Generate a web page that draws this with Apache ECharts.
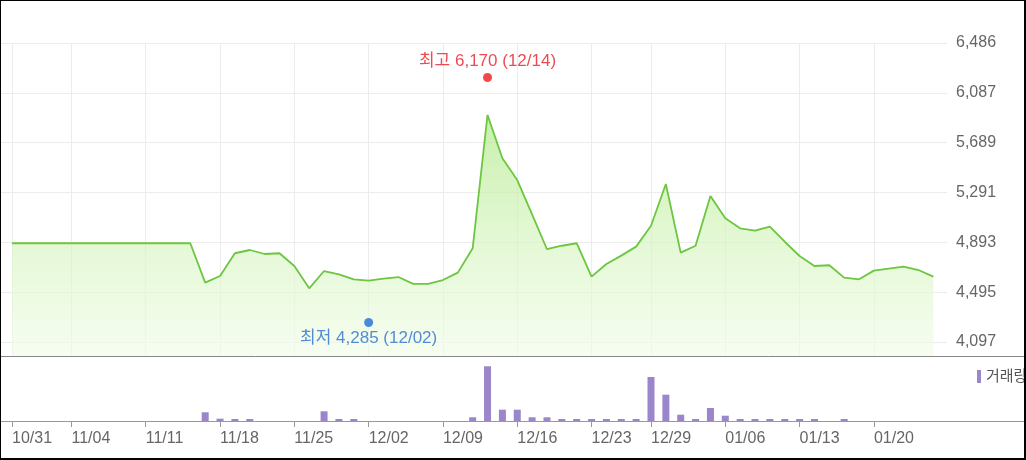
<!DOCTYPE html>
<html>
<head>
<meta charset="utf-8">
<script src="https://cdn.jsdelivr.net/npm/echarts@6/dist/echarts.min.js"></script>
<style>
  html, body { margin: 0; padding: 0; background: #fff; }
  #main { position: absolute; left: 0; top: 0; width: 1026px; height: 460px; }
  #frame {
    position: absolute; left: 0; top: 0; width: 1026px; height: 460px;
    box-sizing: border-box; border: solid #000; border-width: 1px 2px 2px 1px;
    pointer-events: none;
  }
</style>
</head>
<body>
<div id="main"></div>
<div id="frame"></div>
<script>
// trading days shown on the x axis (one per point)
var dates = [
  "10/31", "11/01", "11/02", "11/03", "11/04", "11/05", "11/06", "11/07", "11/08",
  "11/11", "11/12", "11/13", "11/14", "11/15", "11/18", "11/19", "11/20", "11/21", "11/22",
  "11/25", "11/26", "11/27", "11/28", "11/29", "12/02", "12/03", "12/04", "12/05", "12/06",
  "12/09", "12/11", "12/13", "12/14", "12/15", "12/16", "12/17", "12/18", "12/19", "12/20",
  "12/23", "12/24", "12/26", "12/27", "12/29", "12/30", "12/31", "01/02", "01/03",
  "01/06", "01/07", "01/08", "01/09", "01/10", "01/13", "01/14", "01/15", "01/16", "01/17",
  "01/20", "01/21", "01/22", "01/23", "01/24"
];
var closes = [
  4886, 4886, 4886, 4886, 4886, 4886, 4886, 4886, 4886, 4886, 4886, 4886, 4886,
  4571, 4624, 4806, 4832, 4800, 4806, 4704, 4526, 4664, 4638, 4598, 4587, 4603,
  4616, 4561, 4561, 4592, 4651, 4846, 5911, 5565, 5391, 5117, 4838, 4866, 4886,
  4619, 4720, 4787, 4859, 5026, 5359, 4811, 4866, 5264, 5085, 5005, 4986, 5018,
  4898, 4784, 4704, 4710, 4611, 4598, 4667, 4683, 4699, 4672, 4619
];
var volumes = [
  0, 0, 0, 0, 0, 0, 0, 0, 0, 0, 0, 0, 0,
  87000, 23000, 20000, 20000, 0, 0, 0, 0, 97000, 20000, 20000, 0, 0,
  0, 0, 0, 0, 0, 37000, 547000, 113000, 113000, 37000, 37000, 20000, 20000,
  20000, 20000, 20000, 20000, 440000, 263000, 63000, 20000, 130000, 53000, 20000, 20000, 20000,
  20000, 20000, 20000, 0, 20000, 0, 0, 0, 0, 0, 0
];
var tickDates = ["10/31", "11/04", "11/11", "11/18", "11/25", "12/02", "12/09", "12/16",
  "12/23", "12/29", "01/06", "01/13", "01/20"];
var priceTicks = [4097, 4495, 4893, 5291, 5689, 6087, 6486];
var highPoint = { date: "12/14", value: 6170 };
var lowPoint = { date: "12/02", value: 4285 };

var FONT = "'Liberation Sans', 'Noto Sans CJK KR', sans-serif";
var tickIdx = tickDates.map(function (d) { return dates.indexOf(d); });
var fmt = function (v) { return Math.round(v).toLocaleString("en-US"); };

var chartDom = document.getElementById("main");
var myChart = echarts.init(chartDom);

var option = {
  animation: false,
  legend: {
    data: ["거래량"],
    left: 972,
    top: 364,
    icon: "rect",
    itemWidth: 4,
    itemHeight: 13,
    textStyle: { fontSize: 15, color: "#555", fontFamily: FONT },
  },
  grid: [
    { left: 0, right: 79, top: 43, bottom: 104 },
    { left: 0, right: 2, top: 356, bottom: 39 },
  ],
  xAxis: [
    {
      type: "value",
      gridIndex: 0,
      min: -0.8075,
      max: 62.92,
      axisLine: { show: false },
      axisTick: { show: false, customValues: tickIdx },
      axisLabel: { show: false },
      splitLine: { show: true, lineStyle: { color: "#ececec", width: 1 } },
    },
    {
      type: "value",
      gridIndex: 1,
      min: -0.8075,
      max: 68.1,
      position: "bottom",
      axisLine: { show: true, lineStyle: { color: "#999" } },
      axisTick: { show: true, length: 6, lineStyle: { color: "#999" }, customValues: tickIdx },
      axisLabel: {
        customValues: tickIdx,
        formatter: function (v) { return dates[v] || ""; },
        align: "left",
        margin: 10,
        color: "#666",
        fontSize: 16,
        fontFamily: FONT,
      },
      splitLine: { show: false },
    },
    {
      type: "value",
      gridIndex: 1,
      min: -0.8075,
      max: 68.1,
      position: "top",
      axisLine: { show: true, lineStyle: { color: "#888" } },
      axisTick: { show: false },
      axisLabel: { show: false },
      splitLine: { show: false },
    },
  ],
  yAxis: [
    {
      type: "value",
      gridIndex: 0,
      position: "right",
      min: 3985,
      max: 6486,
      axisLine: { show: false },
      axisTick: { show: false, customValues: priceTicks },
      axisLabel: {
        customValues: priceTicks,
        formatter: fmt,
        margin: 9,
        color: "#666",
        fontSize: 16,
        fontFamily: FONT,
      },
      splitLine: { show: true, lineStyle: { color: "#ececec", width: 1 } },
    },
    {
      type: "value",
      gridIndex: 1,
      min: 0,
      max: 650000,
      show: false,
    },
  ],
  series: [
    {
      name: "종가",
      type: "line",
      xAxisIndex: 0,
      yAxisIndex: 0,
      symbol: "none",
      data: closes.map(function (v, i) { return [i, v]; }),
      lineStyle: { color: "#6cc640", width: 1.8 },
      areaStyle: {
        color: new echarts.graphic.LinearGradient(0, 0, 0, 1, [
          { offset: 0, color: "#b0e888" },
          { offset: 0.5, color: "#d6f4c0" },
          { offset: 1, color: "#f2fcea" },
        ]),
      },
    },
    {
      name: "거래량",
      type: "bar",
      xAxisIndex: 1,
      yAxisIndex: 1,
      barWidth: 7,
      itemStyle: { color: "#9a86c8" },
      data: volumes.map(function (v, i) { return [i, v]; }),
    },
    {
      name: "최고",
      type: "scatter",
      z: 10,
      xAxisIndex: 0,
      yAxisIndex: 0,
      symbolSize: 9,
      symbolOffset: [0, -5],
      itemStyle: { color: "#ee1c1c" },
      label: {
        show: true,
        position: "top",
        distance: 3,
        color: "#e81c24",
        fontSize: 17,
        fontFamily: FONT,
        formatter: "최고 " + fmt(highPoint.value) + " (" + highPoint.date + ")",
      },
      data: [[dates.indexOf(highPoint.date), highPoint.value]],
    },
    {
      name: "최저",
      type: "scatter",
      z: 10,
      xAxisIndex: 0,
      yAxisIndex: 0,
      symbolSize: 9,
      symbolOffset: [0, 4],
      itemStyle: { color: "#1f6fd6" },
      label: {
        show: true,
        position: "bottom",
        distance: 3,
        color: "#2a6fd0",
        fontSize: 17,
        fontFamily: FONT,
        formatter: "최저 " + fmt(lowPoint.value) + " (" + lowPoint.date + ")",
      },
      data: [[dates.indexOf(lowPoint.date), lowPoint.value]],
    },
  ],
};

option && myChart.setOption(option);
</script>
</body>
</html>
